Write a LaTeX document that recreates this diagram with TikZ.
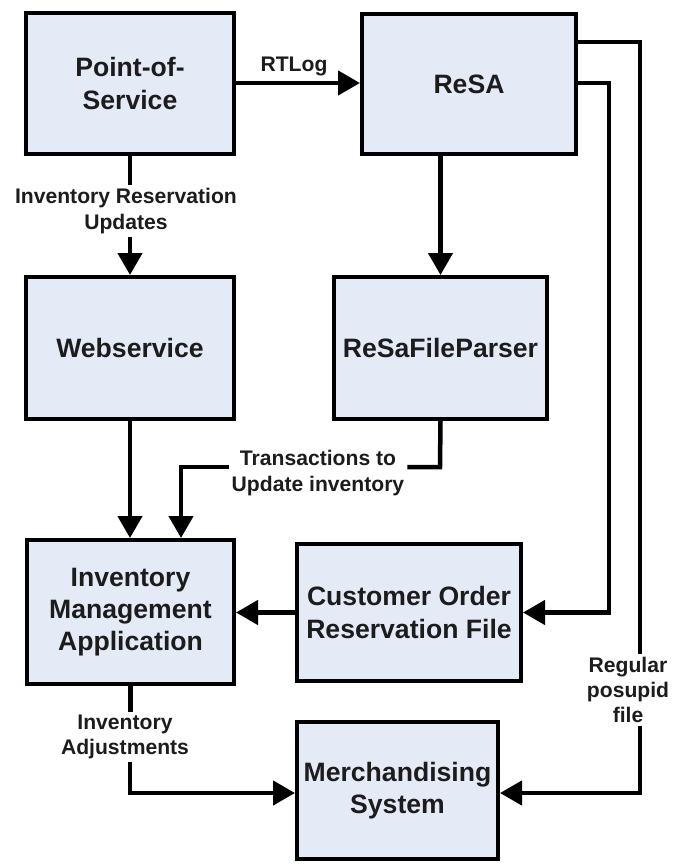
\documentclass[tikz,border=0pt]{standalone}
\usepackage{fontspec}
\setmainfont{Liberation Sans}
\usetikzlibrary{arrows.meta}
\definecolor{boxfill}{RGB}{229,235,246}
\definecolor{ink}{RGB}{28,28,28}
\tikzset{
  box/.style={draw=black, line width=4bp, fill=boxfill, align=center, inner sep=0pt,
    text=ink, font=\fontsize{26.7}{32.5}\selectfont\bfseries},
  lbl/.style={align=center, inner sep=3bp, text=ink, font=\fontsize{21.2}{25.5}\selectfont\bfseries},
  conn/.style={line width=4.5bp, line join=miter},
  arr/.style={conn, -{Triangle[length=22bp,width=24bp]}}
}
\begin{document}
\begin{tikzpicture}[x=1bp,y=-1bp]
\useasboundingbox (0,0) rectangle (675,864);
% boxes
\node[box, minimum width=208bp, minimum height=141bp] (pos) at (130,83.5) {Point-of-\\Service};
\node[box, minimum width=214bp, minimum height=140bp] (resa) at (469,84) {ReSA};
\node[box, minimum width=208bp, minimum height=142bp] (ws) at (130,348) {Webservice};
\node[box, minimum width=213bp, minimum height=142bp] (rfp) at (440.5,348) {ReSaFileParser};
\node[box, minimum width=207bp, minimum height=144bp] (ima) at (130.5,612) {Inventory\\Management\\Application};
\node[box, minimum width=224bp, minimum height=137bp] (corf) at (409,612.5) {Customer Order\\Reservation File};
\node[box, minimum width=201bp, minimum height=137bp] (merch) at (397.5,790.5) {Merchandising\\System};
% labels
\node[lbl] (lrt) at (294,66) {RTLog};
\node[lbl] (l1) at (126,211) {Inventory Reservation\\Updates};
\node[lbl] (l2) at (318,473) {Transactions to\\Update inventory};
\node[lbl] (l3) at (628,690) {Regular\\posupid\\file};
\node[lbl] (l4) at (125,737) {Inventory\\Adjustments};
% coordinates
\coordinate (tr) at (440,467);
\coordinate (tl) at (181,467);
\coordinate (rv1) at (609,83);
\coordinate (rv2) at (640,42);
\coordinate (mv) at (640,793);
\coordinate (iv) at (130,793);
% connectors
\draw[arr] (pos.east |- 0,83) -- (resa.west |- 0,83);
\draw[arr] (rfp.north |- resa.south) -- (rfp.north);
\draw[conn] (pos.south) -- (pos.south |- l1.north);
\draw[arr] (ws.north |- l1.south) -- (ws.north);
\draw[arr] (ws.south) -- (ws.south |- ima.north);
\draw[conn] (rfp.south) -- (tr) -- (tr -| l2.east);
\draw[arr] (tl -| l2.west) -- (tl) -- (tl |- ima.north);
\draw[arr] (corf.west) -- (corf.west -| ima.east);
\draw[arr] (resa.east |- rv1) -- (rv1) |- (corf.east);
\draw[conn] (resa.east |- rv2) -- (rv2) -- (rv2 |- l3.north);
\draw[arr] (rv2 |- l3.south) -- (mv) -- (mv -| merch.east);
\draw[conn] (ima.south) -- (ima.south |- l4.north);
\draw[arr] (iv |- l4.south) -- (iv) -- (iv -| merch.west);
\end{tikzpicture}
\end{document}
